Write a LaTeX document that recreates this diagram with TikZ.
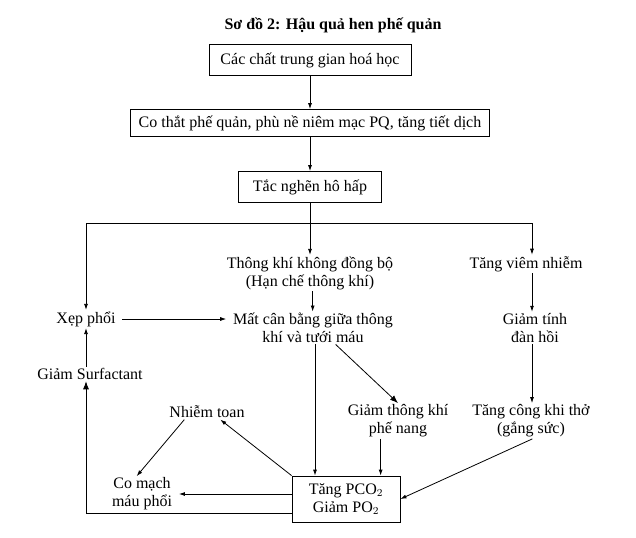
\documentclass[tikz,border=0pt]{standalone}
\usepackage{fontspec}
\setmainfont{Liberation Serif}
\usetikzlibrary{arrows.meta,positioning,calc}

\begin{document}
\begin{tikzpicture}[
  x=0.75pt, y=-0.75pt,
  font=\fontsize{12}{13.5}\selectfont, >={Latex[length=4.5pt,width=3pt]},
  box/.style={rectangle, draw=black, line width=0.6pt, inner sep=2pt, align=center},
  txt/.style={inner xsep=5pt, inner ysep=1pt, align=center},
  arr/.style={->, line width=0.6pt},
  arrbig/.style={-{Latex[length=6pt,width=4.5pt]}, line width=0.6pt}
]
\useasboundingbox (0,0) rectangle (636,537);

\node[font=\fontsize{12}{13.5}\selectfont\bfseries] (title) at (333,25) {Sơ đồ 2: Hậu quả hen phế quản};

% boxes
\node[box, minimum width=151.5pt, minimum height=23.25pt] (chat) at (310,60) {Các chất trung gian hoá học};
\node[box, minimum width=269.25pt, minimum height=20.25pt] (cothat) at (310,123) {Co thắt phế quản, phù nề niêm mạc PQ, tăng tiết dịch};
\node[box, minimum width=107.25pt, minimum height=23.25pt] (tacnghen) at (310,187) {Tắc nghẽn hô hấp};
\node[box, minimum width=81pt, minimum height=34.5pt] (pco) at (346,499) {Tăng PCO$_2$\\Giảm PO$_2$};

% texts
\node[txt] (thongkhi) at (310,273) {Thông khí không đồng bộ\\(Hạn chế thông khí)};
\node[txt] (viem) at (526,264) {Tăng viêm nhiễm};
\node[txt] (xep) at (86,319) {Xẹp phổi};
\node[txt] (matcb) at (313,328) {Mất cân bằng giữa thông\\khí và tưới máu};
\node[txt] (giamtinh) at (535,328) {Giảm tính\\đàn hồi};
\node[txt] (surf) at (90,374) {Giảm Surfactant};
\node[txt] (nhiem) at (207,412) {Nhiễm toan};
\node[txt] (giamtk) at (398,421) {Giảm thông khí\\phế nang};
\node[txt] (tangcong) at (531,421) {Tăng công khi thở\\(gắng sức)};
\node[txt] (comach) at (142,494) {Co mạch\\máu phổi};

\coordinate (split) at (310,223);
\coordinate (splitr) at (532,223);

% arrows
\draw[arr] (chat.south) -- (cothat.north);
\draw[arr] (cothat.south) -- (tacnghen.north);
\draw[arr] (tacnghen.south) -- (thongkhi.north);
\draw[arr] (split) -| (xep.north);
\draw[arr] (split) -- (splitr) -- (splitr |- viem.north);
\draw[arr] ([xshift=2pt]thongkhi.south) -- ([xshift=2pt]thongkhi.south |- matcb.north);
\draw[arr] (xep.east) -- (xep.east -| matcb.west);
\draw[arr] (viem.south -| splitr) -- (giamtinh.north -| splitr);
\draw[arr] (xep.south |- surf.north) -- (xep.south);
\draw[arr] ([xshift=1.5pt]matcb.south) -- ([xshift=1.5pt]matcb.south |- pco.north);
\draw[arrbig] ([xshift=17pt]matcb.south) -- (giamtk.north);
\draw[arr] (giamtinh.south -| splitr) -- (tangcong.north -| splitr);
\draw[arr] ([xshift=-13pt]giamtk.south) -- ([xshift=-13pt]giamtk.south |- pco.north);
\draw[arr] ([xshift=1pt]tangcong.south) -- (pco.east);
\draw[arr] (pco.north west) -- ([xshift=10pt]nhiem.south);
\draw[arr] ([xshift=-17pt]nhiem.south) -- ([xshift=-4pt]comach.north);
\draw[arr] (pco.west |- comach.east) -- (comach.east);
\draw[arrbig] ([yshift=-11pt]pco.west) -| (xep.south |- surf.south);
\end{tikzpicture}
\end{document}
